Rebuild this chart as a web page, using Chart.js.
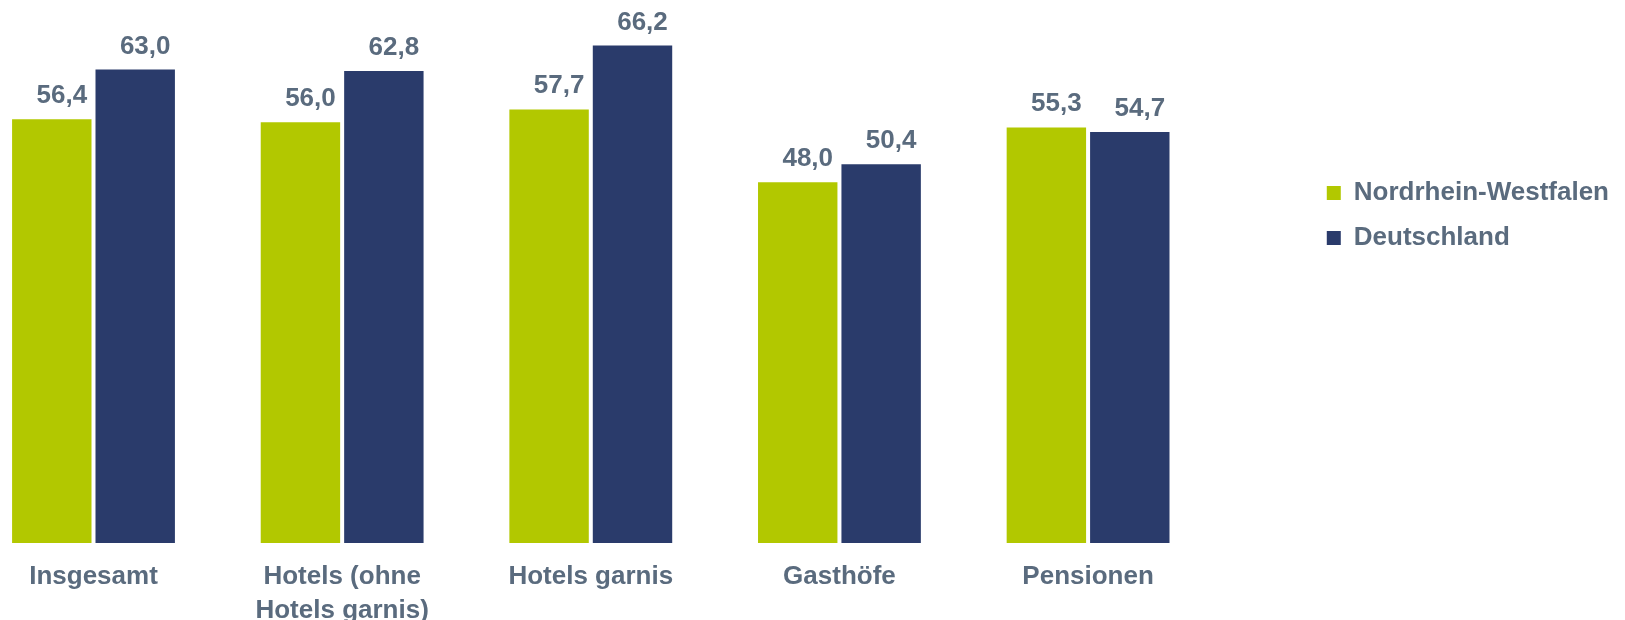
<!DOCTYPE html>
<html lang="de">
  <head>
    <meta charset="UTF-8" />
    <script src="https://cdn.jsdelivr.net/npm/chart.js@4.4.0/dist/chart.umd.min.js"></script>
    <title>Zimmerauslastung</title>
    <style>
      body { margin: 0; background: #fff; }
      #wrap { width: 1625px; height: 620px; }
    </style>
  </head>
  <body>
    <div id="wrap"><canvas id="myChart" width="1625" height="620"></canvas></div>

    <script>
      var categories = ['Insgesamt', ['Hotels (ohne', 'Hotels garnis)'], 'Hotels garnis', 'Gasthöfe', 'Pensionen'];
      var nrw = [56.4, 56.0, 57.7, 48.0, 55.3];
      var de = [63.0, 62.8, 66.2, 50.4, 54.7];
      var seriesNames = ['Nordrhein-Westfalen', 'Deutschland'];

      var textColor = '#5a6b7e';
      var fontFamily = '"Liberation Sans", Arial, sans-serif';

      // value labels above the bars, German decimal comma
      var valueLabels = {
        id: 'valueLabels',
        afterDatasetsDraw(chart) {
          var ctx = chart.ctx;
          ctx.save();
          ctx.font = 'bold 26px ' + fontFamily;
          ctx.fillStyle = textColor;
          ctx.textAlign = 'center';
          ctx.textBaseline = 'alphabetic';
          chart.data.datasets.forEach((ds, i) => {
            chart.getDatasetMeta(i).data.forEach((bar, j) => {
              var txt = ds.data[j].toFixed(1).replace('.', ',');
              ctx.fillText(txt, bar.x + 10, bar.y - 16);
            });
          });
          ctx.restore();
        }
      };

      var ctx = document.getElementById('myChart').getContext('2d');
      var myChart = new Chart(ctx, {
        type: 'bar',
        data: {
          labels: categories,
          datasets: [
            {
              label: seriesNames[0],
              data: nrw,
              backgroundColor: '#b2c800',
              categoryPercentage: 0.671,
              barPercentage: 0.952,
              clip: false
            },
            {
              label: seriesNames[1],
              data: de,
              backgroundColor: '#2a3b6b',
              categoryPercentage: 0.671,
              barPercentage: 0.952,
              clip: false
            }
          ]
        },
        options: {
          responsive: false,
          animation: false,
          layout: { padding: { left: 93.5, top: 17, right: 6, bottom: 0 } },
          scales: {
            x: {
              offset: false,
              grid: { display: false, drawTicks: false },
              border: { display: false },
              ticks: {
                color: textColor,
                font: { family: fontFamily, size: 26, weight: 'bold', lineHeight: 1.3 },
                padding: 17,
                maxRotation: 0,
                autoSkip: false
              },
              afterFit(scale) { scale.height = 77; }
            },
            y: {
              position: 'right',
              min: 0,
              max: 70,
              grid: { display: false, drawTicks: false },
              border: { display: false },
              ticks: { display: false },
              afterFit(scale) { scale.width = 219.7; }
            }
          },
          plugins: {
            tooltip: { enabled: false },
            legend: {
              position: 'right',
              align: 'start',
              maxWidth: 317,
              title: { display: true, text: '', padding: { top: 129.6, bottom: 0 } },
              labels: {
                color: textColor,
                font: { family: fontFamily, size: 26, weight: 'bold' },
                boxWidth: 14,
                boxHeight: 14,
                padding: 19
              }
            }
          }
        },
        plugins: [valueLabels]
      });
    </script>
  </body>
</html>
